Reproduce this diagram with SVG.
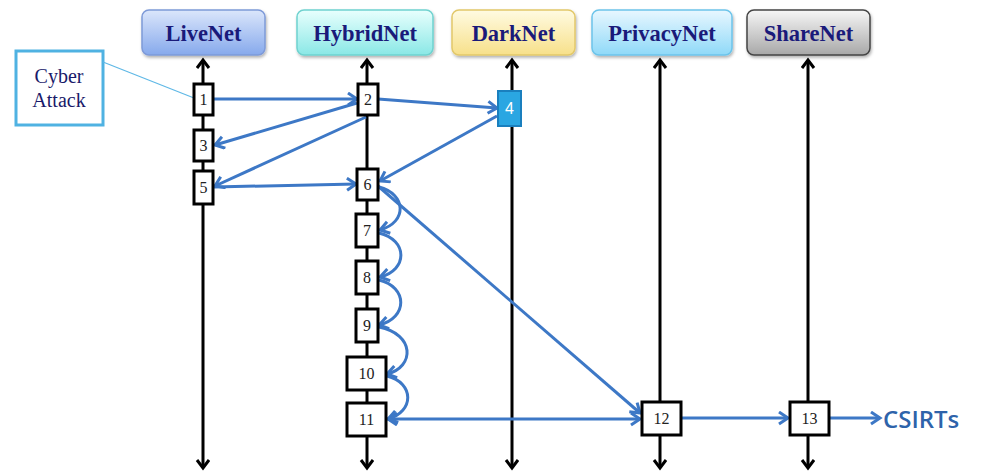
<svg xmlns="http://www.w3.org/2000/svg" width="981" height="473" viewBox="0 0 981 473">
<style>
.hdr{font-family:"Liberation Serif","DejaVu Serif",serif;font-weight:bold;font-size:22.5px;fill:#1a1a7a;text-anchor:middle}
.nd{fill:#fff;stroke:#000;stroke-width:3}
.nt{font-family:"Liberation Serif","DejaVu Serif",serif;font-size:16px;fill:#222;text-anchor:middle}
.life{stroke:#000;stroke-width:3;fill:none;marker-start:url(#ka);marker-end:url(#ka)}
.bl{stroke:#3d78c6;stroke-width:3;fill:none;marker-end:url(#ba)}
.bl2{stroke:#3d78c6;stroke-width:3;fill:none;marker-end:url(#ba);marker-start:url(#ba)}
</style>
<defs>
<marker id="ka" markerUnits="userSpaceOnUse" markerWidth="16" markerHeight="16" refX="11" refY="7" orient="auto-start-reverse"><path d="M3,1 L11,7 L3,13" fill="none" stroke="#000" stroke-width="3"/></marker>
<marker id="ba" markerUnits="userSpaceOnUse" markerWidth="16" markerHeight="16" refX="12" refY="7" orient="auto-start-reverse"><path d="M3,1 L12,7 L3,13" fill="none" stroke="#3d78c6" stroke-width="3"/></marker>
<linearGradient id="gLive" x1="0" y1="0" x2="0" y2="1"><stop offset="0" stop-color="#dbe6fb"/><stop offset="1" stop-color="#86a9ec"/></linearGradient>
<linearGradient id="gHyb" x1="0" y1="0" x2="0" y2="1"><stop offset="0" stop-color="#e8fffd"/><stop offset="1" stop-color="#8ae8e6"/></linearGradient>
<linearGradient id="gDark" x1="0" y1="0" x2="0" y2="1"><stop offset="0" stop-color="#fffbe2"/><stop offset="1" stop-color="#f7e08a"/></linearGradient>
<linearGradient id="gPriv" x1="0" y1="0" x2="0" y2="1"><stop offset="0" stop-color="#e8f7ff"/><stop offset="1" stop-color="#8fd9f8"/></linearGradient>
<linearGradient id="gShare" x1="0" y1="0" x2="0" y2="1"><stop offset="0" stop-color="#f6f6f6"/><stop offset="1" stop-color="#a8a8a8"/></linearGradient>
<filter id="sh" x="-10%" y="-10%" width="130%" height="140%"><feDropShadow dx="1" dy="2" stdDeviation="1.5" flood-color="#000" flood-opacity="0.3"/></filter>
</defs>

<g id="lifelines">
<line class="life" x1="203" y1="60" x2="203" y2="468"/>
<line class="life" x1="367" y1="60" x2="367" y2="468"/>
<line class="life" x1="512" y1="60" x2="512" y2="468"/>
<line class="life" x1="660" y1="60" x2="660" y2="468"/>
<line class="life" x1="808" y1="60" x2="808" y2="468"/>
</g>

<g id="LiveNet"><rect x="142" y="10" width="123" height="45" rx="7" fill="url(#gLive)" stroke="#7e9ad8" stroke-width="1.5" filter="url(#sh)"/><text class="hdr" x="203.5" y="41">LiveNet</text></g>
<g id="HybridNet"><rect x="297" y="10" width="136" height="45" rx="7" fill="url(#gHyb)" stroke="#6fd2cf" stroke-width="1.5" filter="url(#sh)"/><text class="hdr" x="365" y="41">HybridNet</text></g>
<g id="DarkNet"><rect x="452" y="10" width="123" height="45" rx="7" fill="url(#gDark)" stroke="#e2c86a" stroke-width="1.5" filter="url(#sh)"/><text class="hdr" x="513.5" y="41">DarkNet</text></g>
<g id="PrivacyNet"><rect x="592" y="10" width="140" height="45" rx="7" fill="url(#gPriv)" stroke="#6cc4ea" stroke-width="1.5" filter="url(#sh)"/><text class="hdr" x="662" y="41">PrivacyNet</text></g>
<g id="ShareNet"><rect x="747" y="10" width="123" height="45" rx="7" fill="url(#gShare)" stroke="#444" stroke-width="1.5" filter="url(#sh)"/><text class="hdr" x="808.5" y="41">ShareNet</text></g>

<g id="CyberAttack"><rect x="16" y="51" width="87" height="74" fill="#fff" stroke="#4fb2e2" stroke-width="3"/><text x="59" y="83" font-family="Liberation Serif, DejaVu Serif, serif" font-size="20" fill="#1a1a6a" text-anchor="middle">Cyber</text><text x="59" y="107" font-family="Liberation Serif, DejaVu Serif, serif" font-size="20" fill="#1a1a6a" text-anchor="middle">Attack</text></g>

<g id="connectors">
<line x1="103" y1="62" x2="194" y2="98" stroke="#5fb8e6" stroke-width="1.2"/>
<line class="bl" x1="213" y1="99" x2="357" y2="99"/>
<line class="bl" x1="378" y1="99" x2="497" y2="108"/>
<line class="bl" x1="357" y1="103" x2="215" y2="145"/>
<line class="bl" x1="366" y1="117" x2="215" y2="186"/>
<line class="bl" x1="214" y1="187" x2="356" y2="184"/>
<line class="bl" x1="497" y1="116" x2="380" y2="181"/>
<line class="bl" x1="378" y1="186" x2="640" y2="413"/>
<line class="bl2" x1="388" y1="419" x2="640" y2="419"/>
<line class="bl" x1="681" y1="418" x2="788" y2="418"/>
<line class="bl" x1="829" y1="418" x2="880" y2="418"/>
<path class="bl" d="M379,187 C406,194 408,222 380,230"/>
<path class="bl" d="M379,233 C408,240 408,270 380,277"/>
<path class="bl" d="M379,280 C408,287 408,318 379,325"/>
<path class="bl" d="M379,327 C415,334 415,367 387,374"/>
<path class="bl" d="M387,376 C415,383 414,412 388,419"/>
</g>

<g id="n1"><rect class="nd" x="194" y="84" width="19" height="31"/><text class="nt" x="203.5" y="105">1</text></g>
<g id="n3"><rect class="nd" x="194" y="130" width="19" height="31"/><text class="nt" x="203.5" y="151">3</text></g>
<g id="n5"><rect class="nd" x="194" y="171" width="19" height="33"/><text class="nt" x="203.5" y="193">5</text></g>
<g id="n2"><rect class="nd" x="358" y="84" width="20" height="31"/><text class="nt" x="368" y="105">2</text></g>
<g id="n6"><rect class="nd" x="357" y="169" width="21" height="31"/><text class="nt" x="367.5" y="190">6</text></g>
<g id="n7"><rect class="nd" x="356" y="214" width="22" height="33"/><text class="nt" x="367" y="236">7</text></g>
<g id="n8"><rect class="nd" x="356" y="261" width="22" height="33"/><text class="nt" x="367" y="283">8</text></g>
<g id="n9"><rect class="nd" x="356" y="309" width="22" height="33"/><text class="nt" x="367" y="331">9</text></g>
<g id="n10"><rect class="nd" x="347" y="357" width="39" height="33"/><text class="nt" x="366.5" y="379">10</text></g>
<g id="n11"><rect class="nd" x="347" y="403" width="39" height="33"/><text class="nt" x="366.5" y="425">11</text></g>
<g id="n4"><rect x="498" y="91" width="23" height="35" fill="#2aa6e2" stroke="#1a7fbe" stroke-width="2"/><text x="509.5" y="114" font-family="Liberation Sans, DejaVu Sans, sans-serif" font-size="16" fill="#fff" text-anchor="middle">4</text></g>
<g id="n12"><rect class="nd" x="642" y="402" width="39" height="33"/><text class="nt" x="661.5" y="424">12</text></g>
<g id="n13"><rect class="nd" x="790" y="402" width="39" height="33"/><text class="nt" x="809.5" y="424">13</text></g>
<g id="CSIRTs"><text x="883" y="428" font-family="Open Sans, Liberation Sans, sans-serif" font-weight="600" font-size="24" fill="#2e63aa">CSIRTs</text></g>
</svg>
